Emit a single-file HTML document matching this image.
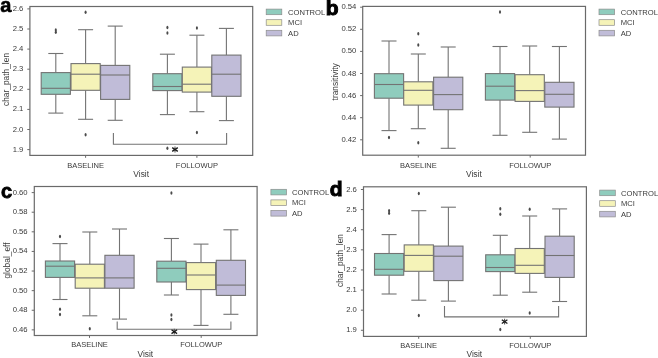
<!DOCTYPE html>
<html><head><meta charset="utf-8"><style>
html,body{margin:0;padding:0;background:#fff;}
svg{display:block;font-family:"Liberation Sans", sans-serif;will-change:transform;transform:translateZ(0);}
#w{width:658px;height:358px;overflow:hidden;}
</style></head><body><div id="w">
<svg width="658" height="358" viewBox="0 0 658 358">
<g>
<rect width="658" height="358" fill="#fff"/>
<line x1="55.80" y1="53.50" x2="55.80" y2="72.60" stroke="#737373" stroke-width="1.1"/>
<line x1="55.80" y1="94.30" x2="55.80" y2="113.10" stroke="#737373" stroke-width="1.1"/>
<line x1="48.30" y1="53.50" x2="63.30" y2="53.50" stroke="#737373" stroke-width="1.1"/>
<line x1="48.30" y1="113.10" x2="63.30" y2="113.10" stroke="#737373" stroke-width="1.1"/>
<rect x="41.20" y="72.60" width="29.20" height="21.70" fill="#8fccbd" stroke="#737373" stroke-width="1.1"/>
<line x1="41.20" y1="88.30" x2="70.40" y2="88.30" stroke="#737373" stroke-width="1.1"/>
<ellipse cx="55.80" cy="29.90" rx="1.05" ry="1.75" fill="#4a4a4a"/>
<ellipse cx="55.80" cy="32.30" rx="1.05" ry="1.75" fill="#4a4a4a"/>
<line x1="85.60" y1="29.70" x2="85.60" y2="63.60" stroke="#737373" stroke-width="1.1"/>
<line x1="85.60" y1="90.30" x2="85.60" y2="119.30" stroke="#737373" stroke-width="1.1"/>
<line x1="78.10" y1="29.70" x2="93.10" y2="29.70" stroke="#737373" stroke-width="1.1"/>
<line x1="78.10" y1="119.30" x2="93.10" y2="119.30" stroke="#737373" stroke-width="1.1"/>
<rect x="71.00" y="63.60" width="29.20" height="26.70" fill="#f5f3b8" stroke="#737373" stroke-width="1.1"/>
<line x1="71.00" y1="74.20" x2="100.20" y2="74.20" stroke="#737373" stroke-width="1.1"/>
<ellipse cx="85.60" cy="12.30" rx="1.05" ry="1.75" fill="#4a4a4a"/>
<ellipse cx="85.60" cy="134.80" rx="1.05" ry="1.75" fill="#4a4a4a"/>
<line x1="115.20" y1="26.10" x2="115.20" y2="65.40" stroke="#737373" stroke-width="1.1"/>
<line x1="115.20" y1="99.40" x2="115.20" y2="120.30" stroke="#737373" stroke-width="1.1"/>
<line x1="107.70" y1="26.10" x2="122.70" y2="26.10" stroke="#737373" stroke-width="1.1"/>
<line x1="107.70" y1="120.30" x2="122.70" y2="120.30" stroke="#737373" stroke-width="1.1"/>
<rect x="100.60" y="65.40" width="29.20" height="34.00" fill="#c0bcd8" stroke="#737373" stroke-width="1.1"/>
<line x1="100.60" y1="75.00" x2="129.80" y2="75.00" stroke="#737373" stroke-width="1.1"/>
<line x1="167.40" y1="54.20" x2="167.40" y2="73.70" stroke="#737373" stroke-width="1.1"/>
<line x1="167.40" y1="90.60" x2="167.40" y2="114.60" stroke="#737373" stroke-width="1.1"/>
<line x1="159.90" y1="54.20" x2="174.90" y2="54.20" stroke="#737373" stroke-width="1.1"/>
<line x1="159.90" y1="114.60" x2="174.90" y2="114.60" stroke="#737373" stroke-width="1.1"/>
<rect x="152.80" y="73.70" width="29.20" height="16.90" fill="#8fccbd" stroke="#737373" stroke-width="1.1"/>
<line x1="152.80" y1="86.50" x2="182.00" y2="86.50" stroke="#737373" stroke-width="1.1"/>
<ellipse cx="167.40" cy="27.40" rx="1.05" ry="1.75" fill="#4a4a4a"/>
<ellipse cx="167.40" cy="33.00" rx="1.05" ry="1.75" fill="#4a4a4a"/>
<ellipse cx="167.40" cy="148.20" rx="1.05" ry="1.75" fill="#4a4a4a"/>
<line x1="196.90" y1="35.20" x2="196.90" y2="67.10" stroke="#737373" stroke-width="1.1"/>
<line x1="196.90" y1="92.10" x2="196.90" y2="111.70" stroke="#737373" stroke-width="1.1"/>
<line x1="189.40" y1="35.20" x2="204.40" y2="35.20" stroke="#737373" stroke-width="1.1"/>
<line x1="189.40" y1="111.70" x2="204.40" y2="111.70" stroke="#737373" stroke-width="1.1"/>
<rect x="182.30" y="67.10" width="29.20" height="25.00" fill="#f5f3b8" stroke="#737373" stroke-width="1.1"/>
<line x1="182.30" y1="84.20" x2="211.50" y2="84.20" stroke="#737373" stroke-width="1.1"/>
<ellipse cx="196.90" cy="28.00" rx="1.05" ry="1.75" fill="#4a4a4a"/>
<ellipse cx="196.90" cy="132.60" rx="1.05" ry="1.75" fill="#4a4a4a"/>
<line x1="226.40" y1="28.40" x2="226.40" y2="55.10" stroke="#737373" stroke-width="1.1"/>
<line x1="226.40" y1="96.30" x2="226.40" y2="120.60" stroke="#737373" stroke-width="1.1"/>
<line x1="218.90" y1="28.40" x2="233.90" y2="28.40" stroke="#737373" stroke-width="1.1"/>
<line x1="218.90" y1="120.60" x2="233.90" y2="120.60" stroke="#737373" stroke-width="1.1"/>
<rect x="211.80" y="55.10" width="29.20" height="41.20" fill="#c0bcd8" stroke="#737373" stroke-width="1.1"/>
<line x1="211.80" y1="74.20" x2="241.00" y2="74.20" stroke="#737373" stroke-width="1.1"/>
<path d="M113.40 133.10 L113.40 144.30 L226.60 144.30 L226.60 133.10" fill="none" stroke="#737373" stroke-width="1.1"/>
<path d="M175.00 146.60V152.40" stroke="#555" stroke-width="1.1" fill="none"/>
<path d="M172.20 147.60L177.80 151.40M172.20 151.40L177.80 147.60" stroke="#1a1a1a" stroke-width="1.3" fill="none"/>
<rect x="29.90" y="6.50" width="222.80" height="148.90" fill="none" stroke="#6a6a6a" stroke-width="1.2"/>
<line x1="27.30" y1="8.90" x2="29.90" y2="8.90" stroke="#6a6a6a" stroke-width="1.0"/>
<text x="23.40" y="10.90" font-size="7.7" text-anchor="end" font-weight="normal" fill="#3a3a3a">2.6</text>
<line x1="27.30" y1="29.00" x2="29.90" y2="29.00" stroke="#6a6a6a" stroke-width="1.0"/>
<text x="23.40" y="31.00" font-size="7.7" text-anchor="end" font-weight="normal" fill="#3a3a3a">2.5</text>
<line x1="27.30" y1="49.10" x2="29.90" y2="49.10" stroke="#6a6a6a" stroke-width="1.0"/>
<text x="23.40" y="51.10" font-size="7.7" text-anchor="end" font-weight="normal" fill="#3a3a3a">2.4</text>
<line x1="27.30" y1="69.20" x2="29.90" y2="69.20" stroke="#6a6a6a" stroke-width="1.0"/>
<text x="23.40" y="71.20" font-size="7.7" text-anchor="end" font-weight="normal" fill="#3a3a3a">2.3</text>
<line x1="27.30" y1="89.30" x2="29.90" y2="89.30" stroke="#6a6a6a" stroke-width="1.0"/>
<text x="23.40" y="91.30" font-size="7.7" text-anchor="end" font-weight="normal" fill="#3a3a3a">2.2</text>
<line x1="27.30" y1="109.40" x2="29.90" y2="109.40" stroke="#6a6a6a" stroke-width="1.0"/>
<text x="23.40" y="111.40" font-size="7.7" text-anchor="end" font-weight="normal" fill="#3a3a3a">2.1</text>
<line x1="27.30" y1="129.50" x2="29.90" y2="129.50" stroke="#6a6a6a" stroke-width="1.0"/>
<text x="23.40" y="131.50" font-size="7.7" text-anchor="end" font-weight="normal" fill="#3a3a3a">2.0</text>
<line x1="27.30" y1="149.60" x2="29.90" y2="149.60" stroke="#6a6a6a" stroke-width="1.0"/>
<text x="23.40" y="151.60" font-size="7.7" text-anchor="end" font-weight="normal" fill="#3a3a3a">1.9</text>
<line x1="85.60" y1="155.40" x2="85.60" y2="157.80" stroke="#6a6a6a" stroke-width="1.0"/>
<text x="85.60" y="167.50" font-size="7.5" text-anchor="middle" font-weight="normal" fill="#3a3a3a">BASELINE</text>
<line x1="196.90" y1="155.40" x2="196.90" y2="157.80" stroke="#6a6a6a" stroke-width="1.0"/>
<text x="196.90" y="167.50" font-size="7.5" text-anchor="middle" font-weight="normal" fill="#3a3a3a">FOLLOWUP</text>
<text x="141.20" y="177.10" font-size="8.4" text-anchor="middle" font-weight="normal" fill="#3a3a3a">Visit</text>
<text x="9.20" y="79.50" font-size="8.4" text-anchor="middle" font-weight="normal" fill="#3a3a3a" transform="rotate(-90 9.20 79.50)">char_path_len</text>
<rect x="266.20" y="9.10" width="15.6" height="5.6" fill="#8fccbd" stroke="#8c8c8c" stroke-width="0.7"/>
<text x="288.10" y="14.50" font-size="7.6" text-anchor="start" font-weight="normal" fill="#3a3a3a">CONTROL</text>
<rect x="266.20" y="19.70" width="15.6" height="5.6" fill="#f5f3b8" stroke="#8c8c8c" stroke-width="0.7"/>
<text x="288.10" y="25.10" font-size="7.6" text-anchor="start" font-weight="normal" fill="#3a3a3a">MCI</text>
<rect x="266.20" y="30.30" width="15.6" height="5.6" fill="#c0bcd8" stroke="#8c8c8c" stroke-width="0.7"/>
<text x="288.10" y="35.70" font-size="7.6" text-anchor="start" font-weight="normal" fill="#3a3a3a">AD</text>
<text x="0.30" y="11.70" font-size="20" text-anchor="start" font-weight="bold" fill="#000" stroke="#000" stroke-width="0.6">a</text>
<line x1="389.00" y1="41.00" x2="389.00" y2="73.70" stroke="#737373" stroke-width="1.1"/>
<line x1="389.00" y1="98.20" x2="389.00" y2="130.60" stroke="#737373" stroke-width="1.1"/>
<line x1="381.50" y1="41.00" x2="396.50" y2="41.00" stroke="#737373" stroke-width="1.1"/>
<line x1="381.50" y1="130.60" x2="396.50" y2="130.60" stroke="#737373" stroke-width="1.1"/>
<rect x="374.40" y="73.70" width="29.20" height="24.50" fill="#8fccbd" stroke="#737373" stroke-width="1.1"/>
<line x1="374.40" y1="84.50" x2="403.60" y2="84.50" stroke="#737373" stroke-width="1.1"/>
<ellipse cx="389.00" cy="137.40" rx="1.05" ry="1.75" fill="#4a4a4a"/>
<line x1="418.30" y1="54.00" x2="418.30" y2="81.80" stroke="#737373" stroke-width="1.1"/>
<line x1="418.30" y1="105.10" x2="418.30" y2="128.70" stroke="#737373" stroke-width="1.1"/>
<line x1="410.80" y1="54.00" x2="425.80" y2="54.00" stroke="#737373" stroke-width="1.1"/>
<line x1="410.80" y1="128.70" x2="425.80" y2="128.70" stroke="#737373" stroke-width="1.1"/>
<rect x="403.70" y="81.80" width="29.20" height="23.30" fill="#f5f3b8" stroke="#737373" stroke-width="1.1"/>
<line x1="403.70" y1="90.30" x2="432.90" y2="90.30" stroke="#737373" stroke-width="1.1"/>
<ellipse cx="418.30" cy="33.80" rx="1.05" ry="1.75" fill="#4a4a4a"/>
<ellipse cx="418.30" cy="44.90" rx="1.05" ry="1.75" fill="#4a4a4a"/>
<ellipse cx="418.30" cy="142.80" rx="1.05" ry="1.75" fill="#4a4a4a"/>
<line x1="448.20" y1="47.00" x2="448.20" y2="77.20" stroke="#737373" stroke-width="1.1"/>
<line x1="448.20" y1="109.70" x2="448.20" y2="148.30" stroke="#737373" stroke-width="1.1"/>
<line x1="440.70" y1="47.00" x2="455.70" y2="47.00" stroke="#737373" stroke-width="1.1"/>
<line x1="440.70" y1="148.30" x2="455.70" y2="148.30" stroke="#737373" stroke-width="1.1"/>
<rect x="433.60" y="77.20" width="29.20" height="32.50" fill="#c0bcd8" stroke="#737373" stroke-width="1.1"/>
<line x1="433.60" y1="94.60" x2="462.80" y2="94.60" stroke="#737373" stroke-width="1.1"/>
<line x1="500.00" y1="46.50" x2="500.00" y2="73.60" stroke="#737373" stroke-width="1.1"/>
<line x1="500.00" y1="100.10" x2="500.00" y2="135.30" stroke="#737373" stroke-width="1.1"/>
<line x1="492.50" y1="46.50" x2="507.50" y2="46.50" stroke="#737373" stroke-width="1.1"/>
<line x1="492.50" y1="135.30" x2="507.50" y2="135.30" stroke="#737373" stroke-width="1.1"/>
<rect x="485.40" y="73.60" width="29.20" height="26.50" fill="#8fccbd" stroke="#737373" stroke-width="1.1"/>
<line x1="485.40" y1="86.20" x2="514.60" y2="86.20" stroke="#737373" stroke-width="1.1"/>
<ellipse cx="500.00" cy="11.90" rx="1.05" ry="1.75" fill="#4a4a4a"/>
<line x1="529.70" y1="46.00" x2="529.70" y2="74.70" stroke="#737373" stroke-width="1.1"/>
<line x1="529.70" y1="101.40" x2="529.70" y2="132.30" stroke="#737373" stroke-width="1.1"/>
<line x1="522.20" y1="46.00" x2="537.20" y2="46.00" stroke="#737373" stroke-width="1.1"/>
<line x1="522.20" y1="132.30" x2="537.20" y2="132.30" stroke="#737373" stroke-width="1.1"/>
<rect x="515.10" y="74.70" width="29.20" height="26.70" fill="#f5f3b8" stroke="#737373" stroke-width="1.1"/>
<line x1="515.10" y1="90.60" x2="544.30" y2="90.60" stroke="#737373" stroke-width="1.1"/>
<line x1="559.40" y1="46.50" x2="559.40" y2="82.30" stroke="#737373" stroke-width="1.1"/>
<line x1="559.40" y1="107.10" x2="559.40" y2="139.10" stroke="#737373" stroke-width="1.1"/>
<line x1="551.90" y1="46.50" x2="566.90" y2="46.50" stroke="#737373" stroke-width="1.1"/>
<line x1="551.90" y1="139.10" x2="566.90" y2="139.10" stroke="#737373" stroke-width="1.1"/>
<rect x="544.80" y="82.30" width="29.20" height="24.80" fill="#c0bcd8" stroke="#737373" stroke-width="1.1"/>
<line x1="544.80" y1="94.30" x2="574.00" y2="94.30" stroke="#737373" stroke-width="1.1"/>
<rect x="362.70" y="6.40" width="222.80" height="148.80" fill="none" stroke="#6a6a6a" stroke-width="1.2"/>
<line x1="360.10" y1="7.20" x2="362.70" y2="7.20" stroke="#6a6a6a" stroke-width="1.0"/>
<text x="356.40" y="9.20" font-size="7.7" text-anchor="end" font-weight="normal" fill="#3a3a3a">0.54</text>
<line x1="360.10" y1="29.30" x2="362.70" y2="29.30" stroke="#6a6a6a" stroke-width="1.0"/>
<text x="356.40" y="31.30" font-size="7.7" text-anchor="end" font-weight="normal" fill="#3a3a3a">0.52</text>
<line x1="360.10" y1="51.40" x2="362.70" y2="51.40" stroke="#6a6a6a" stroke-width="1.0"/>
<text x="356.40" y="53.40" font-size="7.7" text-anchor="end" font-weight="normal" fill="#3a3a3a">0.50</text>
<line x1="360.10" y1="73.50" x2="362.70" y2="73.50" stroke="#6a6a6a" stroke-width="1.0"/>
<text x="356.40" y="75.50" font-size="7.7" text-anchor="end" font-weight="normal" fill="#3a3a3a">0.48</text>
<line x1="360.10" y1="95.60" x2="362.70" y2="95.60" stroke="#6a6a6a" stroke-width="1.0"/>
<text x="356.40" y="97.60" font-size="7.7" text-anchor="end" font-weight="normal" fill="#3a3a3a">0.46</text>
<line x1="360.10" y1="117.70" x2="362.70" y2="117.70" stroke="#6a6a6a" stroke-width="1.0"/>
<text x="356.40" y="119.70" font-size="7.7" text-anchor="end" font-weight="normal" fill="#3a3a3a">0.44</text>
<line x1="360.10" y1="139.80" x2="362.70" y2="139.80" stroke="#6a6a6a" stroke-width="1.0"/>
<text x="356.40" y="141.80" font-size="7.7" text-anchor="end" font-weight="normal" fill="#3a3a3a">0.42</text>
<line x1="418.30" y1="155.20" x2="418.30" y2="157.60" stroke="#6a6a6a" stroke-width="1.0"/>
<text x="418.30" y="167.60" font-size="7.5" text-anchor="middle" font-weight="normal" fill="#3a3a3a">BASELINE</text>
<line x1="530.20" y1="155.20" x2="530.20" y2="157.60" stroke="#6a6a6a" stroke-width="1.0"/>
<text x="530.20" y="167.60" font-size="7.5" text-anchor="middle" font-weight="normal" fill="#3a3a3a">FOLLOWUP</text>
<text x="473.90" y="176.90" font-size="8.4" text-anchor="middle" font-weight="normal" fill="#3a3a3a">Visit</text>
<text x="337.80" y="81.80" font-size="8.4" text-anchor="middle" font-weight="normal" fill="#3a3a3a" transform="rotate(-90 337.80 81.80)">transitivity</text>
<rect x="599.00" y="9.10" width="15.6" height="5.6" fill="#8fccbd" stroke="#8c8c8c" stroke-width="0.7"/>
<text x="620.80" y="14.50" font-size="7.6" text-anchor="start" font-weight="normal" fill="#3a3a3a">CONTROL</text>
<rect x="599.00" y="19.70" width="15.6" height="5.6" fill="#f5f3b8" stroke="#8c8c8c" stroke-width="0.7"/>
<text x="620.80" y="25.10" font-size="7.6" text-anchor="start" font-weight="normal" fill="#3a3a3a">MCI</text>
<rect x="599.00" y="30.30" width="15.6" height="5.6" fill="#c0bcd8" stroke="#8c8c8c" stroke-width="0.7"/>
<text x="620.80" y="35.70" font-size="7.6" text-anchor="start" font-weight="normal" fill="#3a3a3a">AD</text>
<text x="325.70" y="14.70" font-size="21" text-anchor="start" font-weight="bold" fill="#000" stroke="#000" stroke-width="1.0">b</text>
<line x1="60.00" y1="243.60" x2="60.00" y2="261.00" stroke="#737373" stroke-width="1.1"/>
<line x1="60.00" y1="277.40" x2="60.00" y2="299.50" stroke="#737373" stroke-width="1.1"/>
<line x1="52.50" y1="243.60" x2="67.50" y2="243.60" stroke="#737373" stroke-width="1.1"/>
<line x1="52.50" y1="299.50" x2="67.50" y2="299.50" stroke="#737373" stroke-width="1.1"/>
<rect x="45.40" y="261.00" width="29.20" height="16.40" fill="#8fccbd" stroke="#737373" stroke-width="1.1"/>
<line x1="45.40" y1="266.20" x2="74.60" y2="266.20" stroke="#737373" stroke-width="1.1"/>
<ellipse cx="60.00" cy="236.40" rx="1.05" ry="1.75" fill="#4a4a4a"/>
<ellipse cx="60.00" cy="309.30" rx="1.05" ry="1.75" fill="#4a4a4a"/>
<ellipse cx="60.00" cy="314.60" rx="1.05" ry="1.75" fill="#4a4a4a"/>
<line x1="89.80" y1="232.00" x2="89.80" y2="264.20" stroke="#737373" stroke-width="1.1"/>
<line x1="89.80" y1="288.20" x2="89.80" y2="315.80" stroke="#737373" stroke-width="1.1"/>
<line x1="82.30" y1="232.00" x2="97.30" y2="232.00" stroke="#737373" stroke-width="1.1"/>
<line x1="82.30" y1="315.80" x2="97.30" y2="315.80" stroke="#737373" stroke-width="1.1"/>
<rect x="75.20" y="264.20" width="29.20" height="24.00" fill="#f5f3b8" stroke="#737373" stroke-width="1.1"/>
<line x1="75.20" y1="277.90" x2="104.40" y2="277.90" stroke="#737373" stroke-width="1.1"/>
<ellipse cx="89.80" cy="328.70" rx="1.05" ry="1.75" fill="#4a4a4a"/>
<line x1="119.50" y1="229.00" x2="119.50" y2="255.30" stroke="#737373" stroke-width="1.1"/>
<line x1="119.50" y1="288.20" x2="119.50" y2="319.10" stroke="#737373" stroke-width="1.1"/>
<line x1="112.00" y1="229.00" x2="127.00" y2="229.00" stroke="#737373" stroke-width="1.1"/>
<line x1="112.00" y1="319.10" x2="127.00" y2="319.10" stroke="#737373" stroke-width="1.1"/>
<rect x="104.90" y="255.30" width="29.20" height="32.90" fill="#c0bcd8" stroke="#737373" stroke-width="1.1"/>
<line x1="104.90" y1="277.90" x2="134.10" y2="277.90" stroke="#737373" stroke-width="1.1"/>
<line x1="171.40" y1="238.50" x2="171.40" y2="261.20" stroke="#737373" stroke-width="1.1"/>
<line x1="171.40" y1="282.00" x2="171.40" y2="295.00" stroke="#737373" stroke-width="1.1"/>
<line x1="163.90" y1="238.50" x2="178.90" y2="238.50" stroke="#737373" stroke-width="1.1"/>
<line x1="163.90" y1="295.00" x2="178.90" y2="295.00" stroke="#737373" stroke-width="1.1"/>
<rect x="156.80" y="261.20" width="29.20" height="20.80" fill="#8fccbd" stroke="#737373" stroke-width="1.1"/>
<line x1="156.80" y1="268.30" x2="186.00" y2="268.30" stroke="#737373" stroke-width="1.1"/>
<ellipse cx="171.40" cy="192.90" rx="1.05" ry="1.75" fill="#4a4a4a"/>
<ellipse cx="171.40" cy="314.90" rx="1.05" ry="1.75" fill="#4a4a4a"/>
<ellipse cx="171.40" cy="319.40" rx="1.05" ry="1.75" fill="#4a4a4a"/>
<line x1="201.00" y1="244.10" x2="201.00" y2="262.60" stroke="#737373" stroke-width="1.1"/>
<line x1="201.00" y1="289.60" x2="201.00" y2="325.40" stroke="#737373" stroke-width="1.1"/>
<line x1="193.50" y1="244.10" x2="208.50" y2="244.10" stroke="#737373" stroke-width="1.1"/>
<line x1="193.50" y1="325.40" x2="208.50" y2="325.40" stroke="#737373" stroke-width="1.1"/>
<rect x="186.40" y="262.60" width="29.20" height="27.00" fill="#f5f3b8" stroke="#737373" stroke-width="1.1"/>
<line x1="186.40" y1="275.00" x2="215.60" y2="275.00" stroke="#737373" stroke-width="1.1"/>
<line x1="230.90" y1="229.80" x2="230.90" y2="260.30" stroke="#737373" stroke-width="1.1"/>
<line x1="230.90" y1="295.40" x2="230.90" y2="314.30" stroke="#737373" stroke-width="1.1"/>
<line x1="223.40" y1="229.80" x2="238.40" y2="229.80" stroke="#737373" stroke-width="1.1"/>
<line x1="223.40" y1="314.30" x2="238.40" y2="314.30" stroke="#737373" stroke-width="1.1"/>
<rect x="216.30" y="260.30" width="29.20" height="35.10" fill="#c0bcd8" stroke="#737373" stroke-width="1.1"/>
<line x1="216.30" y1="285.10" x2="245.50" y2="285.10" stroke="#737373" stroke-width="1.1"/>
<path d="M117.20 321.60 L117.20 329.20 L230.90 329.20 L230.90 321.60" fill="none" stroke="#737373" stroke-width="1.1"/>
<path d="M174.30 328.80V334.60" stroke="#555" stroke-width="1.1" fill="none"/>
<path d="M171.50 329.80L177.10 333.60M171.50 333.60L177.10 329.80" stroke="#1a1a1a" stroke-width="1.3" fill="none"/>
<rect x="34.30" y="186.50" width="222.80" height="149.00" fill="none" stroke="#6a6a6a" stroke-width="1.2"/>
<line x1="31.70" y1="192.60" x2="34.30" y2="192.60" stroke="#6a6a6a" stroke-width="1.0"/>
<text x="27.60" y="194.60" font-size="7.7" text-anchor="end" font-weight="normal" fill="#3a3a3a">0.60</text>
<line x1="31.70" y1="212.21" x2="34.30" y2="212.21" stroke="#6a6a6a" stroke-width="1.0"/>
<text x="27.60" y="214.21" font-size="7.7" text-anchor="end" font-weight="normal" fill="#3a3a3a">0.58</text>
<line x1="31.70" y1="231.82" x2="34.30" y2="231.82" stroke="#6a6a6a" stroke-width="1.0"/>
<text x="27.60" y="233.82" font-size="7.7" text-anchor="end" font-weight="normal" fill="#3a3a3a">0.56</text>
<line x1="31.70" y1="251.43" x2="34.30" y2="251.43" stroke="#6a6a6a" stroke-width="1.0"/>
<text x="27.60" y="253.43" font-size="7.7" text-anchor="end" font-weight="normal" fill="#3a3a3a">0.54</text>
<line x1="31.70" y1="271.04" x2="34.30" y2="271.04" stroke="#6a6a6a" stroke-width="1.0"/>
<text x="27.60" y="273.04" font-size="7.7" text-anchor="end" font-weight="normal" fill="#3a3a3a">0.52</text>
<line x1="31.70" y1="290.65" x2="34.30" y2="290.65" stroke="#6a6a6a" stroke-width="1.0"/>
<text x="27.60" y="292.65" font-size="7.7" text-anchor="end" font-weight="normal" fill="#3a3a3a">0.50</text>
<line x1="31.70" y1="310.26" x2="34.30" y2="310.26" stroke="#6a6a6a" stroke-width="1.0"/>
<text x="27.60" y="312.26" font-size="7.7" text-anchor="end" font-weight="normal" fill="#3a3a3a">0.48</text>
<line x1="31.70" y1="329.87" x2="34.30" y2="329.87" stroke="#6a6a6a" stroke-width="1.0"/>
<text x="27.60" y="331.87" font-size="7.7" text-anchor="end" font-weight="normal" fill="#3a3a3a">0.46</text>
<line x1="89.50" y1="335.50" x2="89.50" y2="337.90" stroke="#6a6a6a" stroke-width="1.0"/>
<text x="89.50" y="347.30" font-size="7.5" text-anchor="middle" font-weight="normal" fill="#3a3a3a">BASELINE</text>
<line x1="201.20" y1="335.50" x2="201.20" y2="337.90" stroke="#6a6a6a" stroke-width="1.0"/>
<text x="201.20" y="347.30" font-size="7.5" text-anchor="middle" font-weight="normal" fill="#3a3a3a">FOLLOWUP</text>
<text x="145.30" y="356.50" font-size="8.4" text-anchor="middle" font-weight="normal" fill="#3a3a3a">Visit</text>
<text x="10.00" y="260.50" font-size="8.4" text-anchor="middle" font-weight="normal" fill="#3a3a3a" transform="rotate(-90 10.00 260.50)">global_eff</text>
<rect x="270.90" y="189.30" width="15.6" height="5.6" fill="#8fccbd" stroke="#8c8c8c" stroke-width="0.7"/>
<text x="292.00" y="194.70" font-size="7.6" text-anchor="start" font-weight="normal" fill="#3a3a3a">CONTROL</text>
<rect x="270.90" y="199.90" width="15.6" height="5.6" fill="#f5f3b8" stroke="#8c8c8c" stroke-width="0.7"/>
<text x="292.00" y="205.30" font-size="7.6" text-anchor="start" font-weight="normal" fill="#3a3a3a">MCI</text>
<rect x="270.90" y="210.50" width="15.6" height="5.6" fill="#c0bcd8" stroke="#8c8c8c" stroke-width="0.7"/>
<text x="292.00" y="215.90" font-size="7.6" text-anchor="start" font-weight="normal" fill="#3a3a3a">AD</text>
<text x="1.00" y="197.60" font-size="20" text-anchor="start" font-weight="bold" fill="#000" stroke="#000" stroke-width="0.8">c</text>
<line x1="389.10" y1="234.60" x2="389.10" y2="253.50" stroke="#737373" stroke-width="1.1"/>
<line x1="389.10" y1="275.20" x2="389.10" y2="294.00" stroke="#737373" stroke-width="1.1"/>
<line x1="381.60" y1="234.60" x2="396.60" y2="234.60" stroke="#737373" stroke-width="1.1"/>
<line x1="381.60" y1="294.00" x2="396.60" y2="294.00" stroke="#737373" stroke-width="1.1"/>
<rect x="374.50" y="253.50" width="29.20" height="21.70" fill="#8fccbd" stroke="#737373" stroke-width="1.1"/>
<line x1="374.50" y1="269.30" x2="403.70" y2="269.30" stroke="#737373" stroke-width="1.1"/>
<ellipse cx="389.10" cy="210.80" rx="1.05" ry="1.75" fill="#4a4a4a"/>
<ellipse cx="389.10" cy="213.30" rx="1.05" ry="1.75" fill="#4a4a4a"/>
<line x1="418.80" y1="210.70" x2="418.80" y2="244.90" stroke="#737373" stroke-width="1.1"/>
<line x1="418.80" y1="271.30" x2="418.80" y2="300.20" stroke="#737373" stroke-width="1.1"/>
<line x1="411.30" y1="210.70" x2="426.30" y2="210.70" stroke="#737373" stroke-width="1.1"/>
<line x1="411.30" y1="300.20" x2="426.30" y2="300.20" stroke="#737373" stroke-width="1.1"/>
<rect x="404.20" y="244.90" width="29.20" height="26.40" fill="#f5f3b8" stroke="#737373" stroke-width="1.1"/>
<line x1="404.20" y1="255.40" x2="433.40" y2="255.40" stroke="#737373" stroke-width="1.1"/>
<ellipse cx="418.80" cy="193.40" rx="1.05" ry="1.75" fill="#4a4a4a"/>
<ellipse cx="418.80" cy="315.60" rx="1.05" ry="1.75" fill="#4a4a4a"/>
<line x1="448.40" y1="207.20" x2="448.40" y2="246.10" stroke="#737373" stroke-width="1.1"/>
<line x1="448.40" y1="280.60" x2="448.40" y2="301.10" stroke="#737373" stroke-width="1.1"/>
<line x1="440.90" y1="207.20" x2="455.90" y2="207.20" stroke="#737373" stroke-width="1.1"/>
<line x1="440.90" y1="301.10" x2="455.90" y2="301.10" stroke="#737373" stroke-width="1.1"/>
<rect x="433.80" y="246.10" width="29.20" height="34.50" fill="#c0bcd8" stroke="#737373" stroke-width="1.1"/>
<line x1="433.80" y1="256.20" x2="463.00" y2="256.20" stroke="#737373" stroke-width="1.1"/>
<line x1="500.30" y1="235.30" x2="500.30" y2="254.80" stroke="#737373" stroke-width="1.1"/>
<line x1="500.30" y1="271.60" x2="500.30" y2="295.20" stroke="#737373" stroke-width="1.1"/>
<line x1="492.80" y1="235.30" x2="507.80" y2="235.30" stroke="#737373" stroke-width="1.1"/>
<line x1="492.80" y1="295.20" x2="507.80" y2="295.20" stroke="#737373" stroke-width="1.1"/>
<rect x="485.70" y="254.80" width="29.20" height="16.80" fill="#8fccbd" stroke="#737373" stroke-width="1.1"/>
<line x1="485.70" y1="267.50" x2="514.90" y2="267.50" stroke="#737373" stroke-width="1.1"/>
<ellipse cx="500.30" cy="208.70" rx="1.05" ry="1.75" fill="#4a4a4a"/>
<ellipse cx="500.30" cy="214.30" rx="1.05" ry="1.75" fill="#4a4a4a"/>
<ellipse cx="500.30" cy="329.50" rx="1.05" ry="1.75" fill="#4a4a4a"/>
<line x1="529.70" y1="216.00" x2="529.70" y2="248.50" stroke="#737373" stroke-width="1.1"/>
<line x1="529.70" y1="273.40" x2="529.70" y2="292.20" stroke="#737373" stroke-width="1.1"/>
<line x1="522.20" y1="216.00" x2="537.20" y2="216.00" stroke="#737373" stroke-width="1.1"/>
<line x1="522.20" y1="292.20" x2="537.20" y2="292.20" stroke="#737373" stroke-width="1.1"/>
<rect x="515.10" y="248.50" width="29.20" height="24.90" fill="#f5f3b8" stroke="#737373" stroke-width="1.1"/>
<line x1="515.10" y1="265.30" x2="544.30" y2="265.30" stroke="#737373" stroke-width="1.1"/>
<ellipse cx="529.70" cy="209.20" rx="1.05" ry="1.75" fill="#4a4a4a"/>
<ellipse cx="529.70" cy="313.10" rx="1.05" ry="1.75" fill="#4a4a4a"/>
<line x1="559.60" y1="208.90" x2="559.60" y2="236.20" stroke="#737373" stroke-width="1.1"/>
<line x1="559.60" y1="277.40" x2="559.60" y2="301.50" stroke="#737373" stroke-width="1.1"/>
<line x1="552.10" y1="208.90" x2="567.10" y2="208.90" stroke="#737373" stroke-width="1.1"/>
<line x1="552.10" y1="301.50" x2="567.10" y2="301.50" stroke="#737373" stroke-width="1.1"/>
<rect x="545.00" y="236.20" width="29.20" height="41.20" fill="#c0bcd8" stroke="#737373" stroke-width="1.1"/>
<line x1="545.00" y1="255.50" x2="574.20" y2="255.50" stroke="#737373" stroke-width="1.1"/>
<path d="M444.50 306.00 L444.50 316.90 L558.60 316.90 L558.60 306.00" fill="none" stroke="#737373" stroke-width="1.1"/>
<path d="M504.60 318.70V324.50" stroke="#555" stroke-width="1.1" fill="none"/>
<path d="M501.80 319.70L507.40 323.50M501.80 323.50L507.40 319.70" stroke="#1a1a1a" stroke-width="1.3" fill="none"/>
<rect x="363.50" y="186.80" width="222.90" height="149.60" fill="none" stroke="#6a6a6a" stroke-width="1.2"/>
<line x1="360.90" y1="189.50" x2="363.50" y2="189.50" stroke="#6a6a6a" stroke-width="1.0"/>
<text x="356.90" y="191.50" font-size="7.7" text-anchor="end" font-weight="normal" fill="#3a3a3a">2.6</text>
<line x1="360.90" y1="209.61" x2="363.50" y2="209.61" stroke="#6a6a6a" stroke-width="1.0"/>
<text x="356.90" y="211.61" font-size="7.7" text-anchor="end" font-weight="normal" fill="#3a3a3a">2.5</text>
<line x1="360.90" y1="229.72" x2="363.50" y2="229.72" stroke="#6a6a6a" stroke-width="1.0"/>
<text x="356.90" y="231.72" font-size="7.7" text-anchor="end" font-weight="normal" fill="#3a3a3a">2.4</text>
<line x1="360.90" y1="249.83" x2="363.50" y2="249.83" stroke="#6a6a6a" stroke-width="1.0"/>
<text x="356.90" y="251.83" font-size="7.7" text-anchor="end" font-weight="normal" fill="#3a3a3a">2.3</text>
<line x1="360.90" y1="269.94" x2="363.50" y2="269.94" stroke="#6a6a6a" stroke-width="1.0"/>
<text x="356.90" y="271.94" font-size="7.7" text-anchor="end" font-weight="normal" fill="#3a3a3a">2.2</text>
<line x1="360.90" y1="290.05" x2="363.50" y2="290.05" stroke="#6a6a6a" stroke-width="1.0"/>
<text x="356.90" y="292.05" font-size="7.7" text-anchor="end" font-weight="normal" fill="#3a3a3a">2.1</text>
<line x1="360.90" y1="310.16" x2="363.50" y2="310.16" stroke="#6a6a6a" stroke-width="1.0"/>
<text x="356.90" y="312.16" font-size="7.7" text-anchor="end" font-weight="normal" fill="#3a3a3a">2.0</text>
<line x1="360.90" y1="330.27" x2="363.50" y2="330.27" stroke="#6a6a6a" stroke-width="1.0"/>
<text x="356.90" y="332.27" font-size="7.7" text-anchor="end" font-weight="normal" fill="#3a3a3a">1.9</text>
<line x1="418.70" y1="336.40" x2="418.70" y2="338.80" stroke="#6a6a6a" stroke-width="1.0"/>
<text x="418.70" y="347.80" font-size="7.5" text-anchor="middle" font-weight="normal" fill="#3a3a3a">BASELINE</text>
<line x1="530.30" y1="336.40" x2="530.30" y2="338.80" stroke="#6a6a6a" stroke-width="1.0"/>
<text x="530.30" y="347.80" font-size="7.5" text-anchor="middle" font-weight="normal" fill="#3a3a3a">FOLLOWUP</text>
<text x="474.30" y="357.40" font-size="8.4" text-anchor="middle" font-weight="normal" fill="#3a3a3a">Visit</text>
<text x="342.60" y="260.50" font-size="8.4" text-anchor="middle" font-weight="normal" fill="#3a3a3a" transform="rotate(-90 342.60 260.50)">char_path_len</text>
<rect x="599.70" y="190.10" width="15.6" height="5.6" fill="#8fccbd" stroke="#8c8c8c" stroke-width="0.7"/>
<text x="621.00" y="195.50" font-size="7.6" text-anchor="start" font-weight="normal" fill="#3a3a3a">CONTROL</text>
<rect x="599.70" y="200.70" width="15.6" height="5.6" fill="#f5f3b8" stroke="#8c8c8c" stroke-width="0.7"/>
<text x="621.00" y="206.10" font-size="7.6" text-anchor="start" font-weight="normal" fill="#3a3a3a">MCI</text>
<rect x="599.70" y="211.30" width="15.6" height="5.6" fill="#c0bcd8" stroke="#8c8c8c" stroke-width="0.7"/>
<text x="621.00" y="216.70" font-size="7.6" text-anchor="start" font-weight="normal" fill="#3a3a3a">AD</text>
<text x="329.80" y="196.00" font-size="21" text-anchor="start" font-weight="bold" fill="#000" stroke="#000" stroke-width="1.0">d</text>
</g>
</svg></div>
</body></html>
